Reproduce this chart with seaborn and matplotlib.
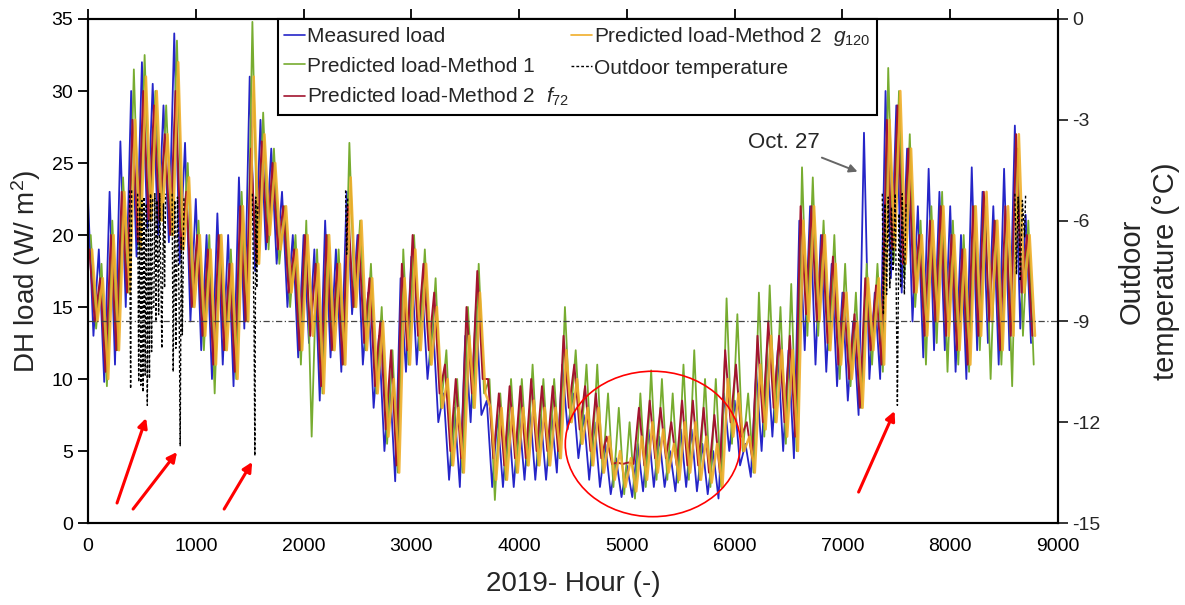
import numpy as np
import pandas as pd
import matplotlib.pyplot as plt
import seaborn as sns
from matplotlib.lines import Line2D
from matplotlib.patches import Ellipse

measured_hi = [22.5, 19, 23, 26.5, 30, 32, 30.5, 29, 34, 26.4,
               22.5, 20, 21.5, 20, 24, 31, 28, 26, 23, 20,
               20, 19, 21, 19, 23, 20, 16, 13, 10, 17,
               18.5, 16.5, 14, 9, 8, 13, 15, 8.5, 7.5, 7.5,
               7.5, 8, 7.5, 7.5, 11, 9, 7.5, 7, 5.5, 4.5,
               4, 5.5, 6.5, 6, 5, 6.5, 6.5, 5.5, 5, 9,
               8.5, 5.5, 10.5, 12, 12, 12, 21, 22, 20, 18,
               16, 14, 27.1, 16, 30, 29, 26, 22, 24.6, 23,
               22, 20, 24.7, 23, 22, 24.6, 27.6, 21.4]
measured_lo = [13, 9.8, 11, 15, 18.5, 20.5, 20, 19.5, 18, 14,
               12, 10, 11, 9.5, 13.5, 17.5, 19, 18, 15, 11.5,
               12.5, 8.5, 11.5, 10.5, 14.5, 11, 8, 5, 2.9, 10.5,
               11, 10, 7, 3, 2.5, 7, 7.5, 2.5, 2.5, 2.5,
               3, 3, 3, 3.5, 6.5, 4.5, 3, 2.5, 2, 1.8,
               1.8, 2.2, 2.5, 2.5, 2.2, 2.5, 2.2, 2, 1.7, 5,
               4, 3.2, 5, 6, 5, 4.5, 12, 11, 10.5, 9.5,
               8.5, 7.5, 10, 10, 17, 16, 14, 11.5, 12, 12,
               10.5, 10, 12, 12.5, 11, 12, 13.5, 12.5]

method1_hi = [20, 18, 21, 24, 31.5, 32.5, 30, 29, 33.5, 25,
              21, 20, 20, 19, 23, 34.8, 28.5, 26, 22, 20,
              21, 19, 20, 19, 26.4, 21, 18, 15, 12, 19,
              20, 19, 17, 12, 10, 15, 18, 10, 9, 10,
              10, 11, 10, 10, 15, 12, 11, 11, 9, 8,
              7, 9, 10.6, 10, 9, 11, 12, 10, 10, 15.6,
              14.5, 9, 16, 16.5, 15, 16.6, 24.7, 24, 21, 20,
              18, 16, 18, 18, 31.6, 30, 27, 21, 22, 23,
              21, 20, 22, 22, 21, 21, 26, 21]
method1_lo = [13.5, 9.5, 12, 16, 19, 21, 21, 20, 19, 15,
              12, 9, 12, 10, 14, 18, 19, 18, 15, 11,
              6, 9, 12, 11, 15, 12, 9, 5.5, 3.5, 11,
              12, 11, 8, 4, 3.5, 8, 9, 1.6, 3, 3.5,
              4, 4, 4, 4.5, 7, 5.5, 4, 3.5, 2.5, 2,
              1.7, 2.5, 3, 3, 2.8, 3, 3, 2.5, 2.5, 5.5,
              5, 3.5, 6, 7, 5.5, 5, 13, 13, 12, 10,
              9.5, 8, 11, 10.5, 18, 17, 15, 11, 12.5, 10.5,
              11, 10.5, 12, 10, 11, 9.5, 13, 11]

f72_hi = [19, 17, 20, 23, 28, 30, 29, 27, 30, 23,
          20, 19, 20, 18, 22, 26, 26.5, 25, 22, 19,
          20, 18, 20, 18, 22, 20, 17, 14, 12, 18,
          20, 18, 16, 11, 10, 15, 17.5, 10, 9, 9.5,
          9.5, 10, 9.5, 9.5, 13, 11, 9.5, 9, 6, 4.2,
          4.2, 8, 8.5, 8, 7, 8.5, 8.5, 8, 7.5, 12,
          11, 7, 13, 14, 13, 13, 22, 22, 20, 18.5,
          16, 14.5, 17, 16.5, 28, 29, 26, 20, 21, 22,
          20, 19, 22, 23, 21, 22, 27, 20]
f72_lo = [14, 10.5, 12, 16, 19.5, 21, 21, 20, 19, 15,
          13, 11, 12, 10.5, 14, 18, 19.5, 19, 16, 12,
          13, 9.5, 12, 11, 15, 12.5, 9.5, 6.5, 4, 12,
          13, 12, 9, 5, 4.5, 9, 10, 4.5, 4, 4.5,
          4.5, 5, 5, 5, 8, 6.5, 5, 4.5, 4.1, 4.1,
          4.1, 4, 4.5, 4.5, 4, 4, 4, 3.5, 3.5, 7,
          6, 4.5, 7, 8, 7, 6, 14.5, 14, 12.5, 11,
          10, 8, 12, 11, 19, 18, 16, 13, 14, 13,
          12, 11, 13, 14, 12, 13, 16, 13]

g120_hi = [19, 17, 20, 23, 28, 31, 30, 27, 32, 24,
           20, 19, 20, 18, 22, 31, 27, 25, 22, 19,
           20, 18, 20, 18, 24, 21, 17, 14, 10, 17,
           19, 18, 15, 10, 8, 13, 16, 8, 8, 8,
           8, 8.5, 8, 8, 12, 10, 8, 8, 6, 5,
           4.5, 6, 7, 6.5, 5.5, 7, 7, 6, 5.5, 10,
           9, 6, 11, 13, 12, 12, 21, 22, 20, 18,
           16, 14, 17, 17, 28, 30, 26, 20, 21, 22,
           20, 19, 22, 23, 21, 22, 27, 20]
g120_lo = [14, 10, 12, 16, 19, 21, 21, 20, 19, 15,
           13, 11, 12, 10, 14, 18, 20, 19, 16, 12,
           13, 9, 12, 11, 15, 12, 9, 6, 3.5, 11,
           12, 11, 8, 4, 3.5, 8, 9, 3, 3, 3.5,
           4, 4, 4, 4.5, 7, 5.5, 4, 3.5, 3, 2.5,
           2.2, 3, 3.5, 3.5, 3, 3.5, 3, 2.8, 2.5, 6,
           5, 3.5, 6.5, 7, 6, 5, 14, 14, 12, 11,
           10, 8, 12, 11, 19, 18, 16, 13, 14, 13,
           12, 11, 13, 14, 12, 13, 16, 13]

# hour within each 100 h block where each series' high was read
peak_hour = {'measured': 0, 'method1': 25, 'f72': 12, 'g120': 37}

# outdoor temperature (deg C), only the cold spells that show on the chart
temp_spells = [
    ([385, 395, 405], [-5.1, -11.0, -5.1]),
    ([460, 470, 480, 490, 500, 510, 520, 530, 540, 550, 560, 570, 580, 590, 600],
     [-5.2, -10.8, -5.6, -10.9, -5.4, -11.1, -5.3, -10.6, -5.5, -11.5, -6.0, -10.7, -5.2, -9.9, -5.3]),
    ([610, 620, 630, 640, 655, 665, 685, 700, 710, 720],
     [-8.6, -5.2, -9.0, -5.4, -8.8, -5.2, -9.8, -5.5, -8.0, -5.2]),
    ([780, 790, 805, 815, 830, 845, 855, 865, 875, 890],
     [-5.2, -10.5, -5.4, -9.8, -5.3, -8.5, -12.7, -6.5, -9.4, -5.3]),
    ([1525, 1540, 1548, 1556, 1565, 1575], [-5.2, -9.0, -13.0, -5.3, -8.0, -5.5]),
    ([2390, 2400, 2410], [-5.1, -7.0, -5.3]),
    ([7370, 7380, 7395, 7410, 7425, 7440, 7455, 7470, 7490, 7510, 7525, 7540, 7555, 7575, 7590],
     [-5.2, -8.8, -5.5, -8.2, -5.3, -8.0, -5.6, -7.5, -5.2, -11.5, -5.8, -8.0, -5.2, -8.2, -5.5]),
    ([8600, 8615, 8630, 8650, 8670, 8690, 8700], [-5.2, -7.6, -5.3, -7.8, -5.4, -6.5, -5.2]),
]

block_start = np.arange(0, 8800, 100)


def zigzag(hi, lo, shift):
    # high at block start (+shift), low half a block later
    t = np.column_stack([block_start + shift, block_start + shift + 50]).ravel()
    v = np.column_stack([hi, lo]).ravel()
    return pd.DataFrame({'hour': t, 'load': v})


series = [
    ('Measured load', measured_hi, measured_lo, peak_hour['measured'], '#2525C8', 1.0, 1.3),
    ('Predicted load-Method 1', method1_hi, method1_lo, peak_hour['method1'], '#77AC30', 1.0, 1.3),
    ('Predicted load-Method 2  $f_{72}$', f72_hi, f72_lo, peak_hour['f72'], '#A2142F', 1.0, 1.4),
    ('Predicted load-Method 2  $g_{120}$', g120_hi, g120_lo, peak_hour['g120'], '#F0AE2A', 0.9, 1.8),
]

sns.set_style('white')
plt.rcParams['font.family'] = ['Liberation Sans', 'DejaVu Sans']
plt.rcParams['mathtext.fontset'] = 'custom'
plt.rcParams['mathtext.it'] = 'Liberation Sans:italic'
plt.rcParams['mathtext.rm'] = 'Liberation Sans'

fig = plt.figure(figsize=(11.85, 6.05), dpi=100)
ax = fig.add_axes([0.0743, 0.1355, 0.8185, 0.8331])

for name, hi, lo, sh, col, a, w in series:
    sns.lineplot(data=zigzag(hi, lo, sh), x='hour', y='load', ax=ax, color=col,
                 lw=w, alpha=a, legend=False, estimator=None)

ax.set_xlim(0, 9000)
ax.set_ylim(0, 35)
ax.set_xticks(range(0, 9001, 1000))
ax.set_yticks(range(0, 36, 5))
ax.set_xlabel('2019- Hour (-)', fontsize=20, labelpad=12)
ax.set_ylabel('DH load (W/ m$^2$)', fontsize=20, labelpad=6)
ax.tick_params(axis='both', direction='out', length=7, width=1.3, labelsize=14,
               top=True, right=False, colors='black')
for s in ax.spines.values():
    s.set_linewidth(1.5)
    s.set_color('black')

# outdoor temperature on the right axis
ax2 = ax.twinx()
th, tv = [], []
for h, v in temp_spells:
    th += list(h) + [np.nan]
    tv += list(v) + [np.nan]
ax2.plot(th, tv, color='black', lw=1.0, ls=(0, (2, 1.5)))
ax2.axhline(-9, color='#444444', lw=0.9, ls=(0, (5, 2, 1, 2)))
ax2.set_ylim(-15, 0)
ax2.set_yticks(range(-15, 1, 3))
ax2.set_yticklabels([str(v) for v in range(-15, 1, 3)])
ax2.set_ylabel('Outdoor\ntemperature (°C)', fontsize=21, labelpad=12, linespacing=1.3)
ax2.tick_params(axis='y', direction='out', length=7, width=1.3, labelsize=14)
for s in ax2.spines.values():
    s.set_linewidth(1.5)
    s.set_color('black')

# annotations
ax2.add_patch(Ellipse((5241, 5.49 * 15 / 35 - 15), width=1625, height=10.1 * 15 / 35,
                      fill=False, edgecolor='red', lw=1.2, zorder=5))
red_arrows = [((269, 1.39), (539, 7.29)), ((418, 0.97), (826, 4.93)),
              ((1263, 0.97), (1523, 4.24)), ((7150, 2.15), (7484, 7.78))]
for (x0, y0), (x1, y1) in red_arrows:
    ax.annotate('', xy=(x1, y1), xytext=(x0, y0),
                arrowprops=dict(arrowstyle='-|>', color='red', lw=2.2, mutation_scale=14,
                                shrinkA=0, shrinkB=0))
ax.annotate('Oct. 27', xy=(7140, 24.4), xytext=(6460, 26.4), ha='center', va='center',
            fontsize=16, arrowprops=dict(arrowstyle='-|>', color='#666666', lw=1.4,
                                         mutation_scale=12, shrinkA=2, shrinkB=0))

handles = [Line2D([], [], color=s[4], lw=1.2) for s in series]
handles.append(Line2D([], [], color='black', lw=1.0, ls=(0, (2, 1.5))))
labels = [s[0] for s in series] + ['Outdoor temperature']
leg = ax2.legend(handles, labels, ncol=2, loc='upper left', mode='expand',
                 bbox_to_anchor=(0.196, 0.7, 0.617, 0.3),
                 fontsize=15, frameon=True, fancybox=False, edgecolor='black',
                 framealpha=1, handlelength=1.0, handletextpad=0.1, labelspacing=0.5,
                 columnspacing=0.3, borderpad=0.3, borderaxespad=0)
leg.get_frame().set_linewidth(1.5)

fig.savefig('out.png', dpi=100)
